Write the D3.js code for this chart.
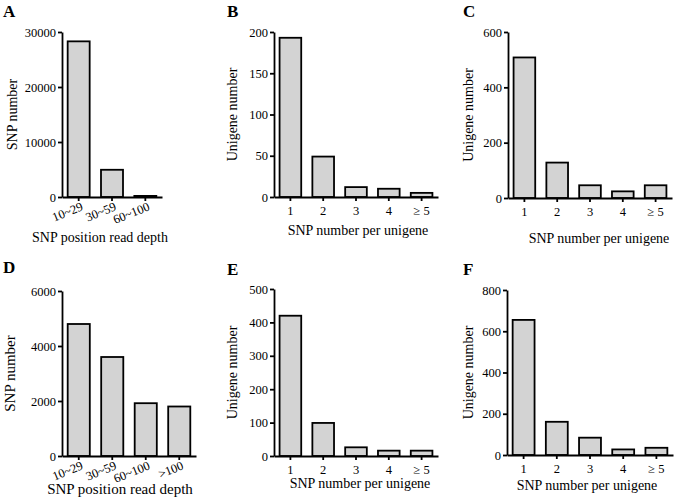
<!DOCTYPE html>
<html><head><meta charset="utf-8">
<script src="https://cdn.jsdelivr.net/npm/d3@7"></script>
<style>body{margin:0;background:#fff} text{font-family:"Liberation Serif","Times New Roman",serif;fill:#000}</style>
</head><body><svg id="c" width="675" height="501"></svg>
<script>
// ---- data ----
const depthCatsA = ["10~29","30~59","60~100"];
const depthValsA = [28300, 4950, 200];
const yTicksA = [0, 10000, 20000, 30000];
const snpCats = ["1","2","3","4","\u2265 5"];
const valsB = [193, 49, 12, 10, 5];
const yTicksB = [0, 50, 100, 150, 200];
const valsC = [508, 128, 46, 24, 46];
const yTicksC = [0, 200, 400, 600];
const depthCatsD = ["10~29","30~59","60~100",">100"];
const depthValsD = [4800, 3600, 1920, 1800];
const yTicksD = [0, 2000, 4000, 6000];
const valsE = [420, 99, 26, 16, 16];
const yTicksE = [0, 100, 200, 300, 400, 500];
const valsF = [655, 161, 84, 27, 35];
const yTicksF = [0, 200, 400, 600, 800];

const titleDepth = "SNP position read depth";
const titleSnpN = "SNP number";
const titlePer = "SNP number per unigene";
const titleUni = "Unigene number";

// ---- layout ----
const panels = [
  {L:"A", lp:[3,17], xr:[62,162], yr:[197,32], cats:depthCatsA, vals:depthValsA, ticks:yTicksA, rot:true,
   yt:titleSnpN, ytx:12, xt:titleDepth, xtp:[100,242], fs:14},
  {L:"B", lp:[227,17], xr:[274,438], yr:[197,32], cats:snpCats, vals:valsB, ticks:yTicksB, rot:false,
   yt:titleUni, ytx:232, xt:titlePer, xtp:[358,235], fs:14},
  {L:"C", lp:[463,17], xr:[508,672], yr:[198,32], cats:snpCats, vals:valsC, ticks:yTicksC, rot:false,
   yt:titleUni, ytx:468, xt:titlePer, xtp:[599,243], fs:14},
  {L:"D", lp:[3,273], xr:[62,196], yr:[456,291], cats:depthCatsD, vals:depthValsD, ticks:yTicksD, rot:true,
   yt:titleSnpN, ytx:10, xt:titleDepth, xtp:[120,494], fs:15},
  {L:"E", lp:[227,275], xr:[274,438], yr:[456,289], cats:snpCats, vals:valsE, ticks:yTicksE, rot:false,
   yt:titleUni, ytx:232, xt:titlePer, xtp:[360,488], fs:14},
  {L:"F", lp:[463,275], xr:[507,673], yr:[455,290], cats:snpCats, vals:valsF, ticks:yTicksF, rot:false,
   yt:titleUni, ytx:468, xt:titlePer, xtp:[587,490], fs:14}
];

const svg = d3.select("#c");

panels.forEach(p => {
  const g = svg.append("g");
  const x = d3.scaleBand().domain(p.cats).range(p.xr).paddingInner(0.34).paddingOuter(0.17);
  const y = d3.scaleLinear().domain([0, d3.max(p.ticks)]).range(p.yr);

  g.selectAll("rect").data(p.vals).join("rect")
    .attr("x", (d,i) => x(p.cats[i]))
    .attr("width", x.bandwidth())
    .attr("y", d => y(d))
    .attr("height", d => y(0) - y(d))
    .attr("fill", "#d3d3d3")
    .attr("stroke", "#000")
    .attr("stroke-width", 1.8);

  const ya = g.append("g").attr("transform", `translate(${p.xr[0]},0)`)
    .call(d3.axisLeft(y).tickValues(p.ticks).tickFormat(d3.format("d")).tickSize(4).tickSizeOuter(0).tickPadding(2));
  const xa = g.append("g").attr("transform", `translate(0,${p.yr[0]})`)
    .call(d3.axisBottom(x).tickSize(4).tickSizeOuter(0).tickPadding(p.rot ? 1 : 5));

  [ya, xa].forEach(a => {
    a.select(".domain").attr("stroke", "#000").attr("stroke-width", 1.8);
    a.selectAll(".tick line").attr("stroke", "#000").attr("stroke-width", 1.8);
    a.selectAll("text").attr("font-family", "Liberation Serif").attr("font-size", 12.5).attr("fill", "#000");
  });
  if (p.rot) {
    xa.selectAll(".tick text")
      .attr("text-anchor", "end")
      .attr("dy", "0.7em")
      .attr("transform", "rotate(-22)");
  }

  g.append("text").attr("x", p.lp[0]).attr("y", p.lp[1])
    .attr("font-size", 17).attr("font-weight", "bold").text(p.L);

  g.append("text")
    .attr("transform", `translate(${p.ytx},${(p.yr[0]+p.yr[1])/2}) rotate(-90)`)
    .attr("text-anchor", "middle").attr("dy", "0.35em")
    .attr("font-size", p.fs).text(p.yt);

  g.append("text").attr("x", p.xtp[0]).attr("y", p.xtp[1])
    .attr("text-anchor", "middle").attr("font-size", p.fs).text(p.xt);
});
</script></body></html>
